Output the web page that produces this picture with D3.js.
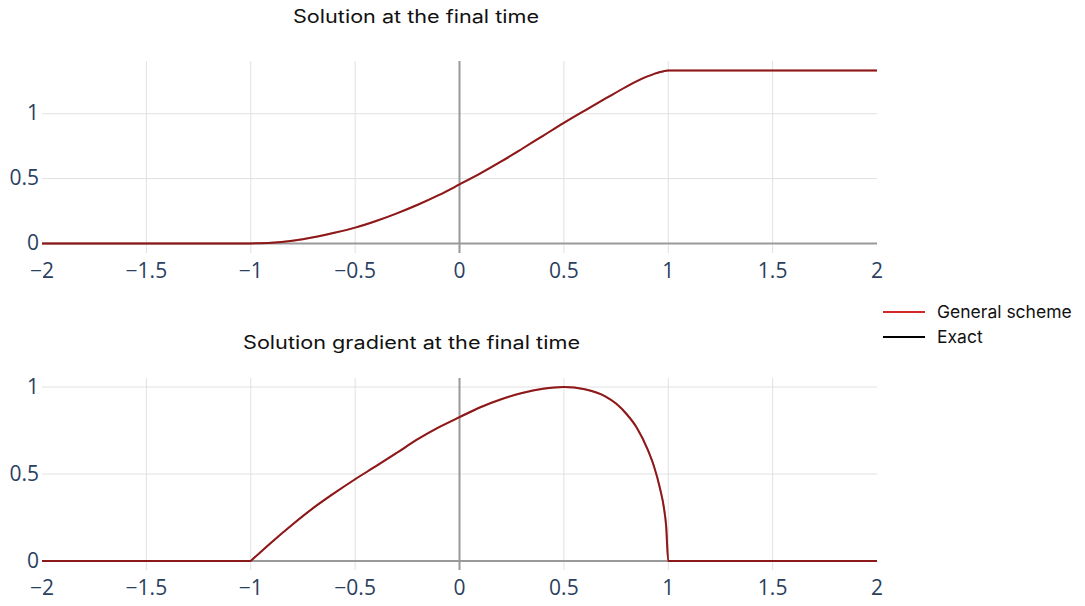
<!DOCTYPE html>
<html lang="en">

<head>
    <meta charset="UTF-8">
    <title>Solution at the final time</title>
    <script src="https://cdn.jsdelivr.net/npm/d3@7"></script>
    <style>
        body { margin: 0; background: #fff; }
        svg { display: block; }
    </style>
</head>

<body>
    <svg id="chart" width="1085" height="606"></svg>

    <script>
        // x positions shared by both panels
        const xs = [-2, -1.5, -1, -0.9, -0.8, -0.7, -0.6, -0.5, -0.4, -0.3, -0.2, -0.1,
            0, 0.1, 0.2, 0.3, 0.4, 0.5, 0.6, 0.7, 0.75, 0.8, 0.85, 0.9, 0.93, 0.96, 0.98, 0.99, 1, 1.5, 2]

        // solution u(x) at final time
        const solution = [0, 0, 0, 0.005, 0.021, 0.047, 0.082, 0.122, 0.173, 0.232, 0.298, 0.372,
            0.455, 0.54, 0.632, 0.73, 0.83, 0.93, 1.025, 1.118, 1.164, 1.21, 1.252, 1.288, 1.306, 1.322, 1.329, 1.332, 1.333, 1.333, 1.333]

        // gradient u'(x) at final time
        const gradient = [0, 0, 0, 0.108, 0.21, 0.305, 0.39, 0.47, 0.545, 0.622, 0.7, 0.768,
            0.827, 0.884, 0.93, 0.966, 0.99, 1.0, 0.987, 0.945, 0.905, 0.845, 0.765, 0.645, 0.55, 0.42, 0.3, 0.2, 0, 0, 0]

        const xTicks = [-2, -1.5, -1, -0.5, 0, 0.5, 1, 1.5, 2]
        const yTicks = [0, 0.5, 1]

        const seriesNames = ['General scheme', 'Exact']
        const seriesColors = ['#d62728', '#000000']

        const svg = d3.select('#chart')
        const left = 42, right = 877

        const panels = [
            { title: 'Solution at the final time', values: solution, top: 61, bottom: 253,
              domain: [-0.074, 1.407], titleX: 293, titleY: 23, titleW: 246 },
            { title: 'Solution gradient at the final time', values: gradient, top: 378, bottom: 570,
              domain: [-0.052, 1.052], titleX: 243, titleY: 349, titleW: 337 }
        ]

        const fmt = d => d === 0 ? '0' : d3.format('')(d).replace('-', '\u2212')

        panels.forEach(p => {
            const x = d3.scaleLinear().domain([-2, 2]).range([left, right])
            const y = d3.scaleLinear().domain(p.domain).range([p.bottom, p.top])
            const g = svg.append('g')

            // grid lines
            g.selectAll('.vgrid')
                .data(xTicks.filter(d => d !== 0 && Math.abs(d) !== 2))
                .join('line')
                .attr('x1', d => x(d)).attr('x2', d => x(d))
                .attr('y1', p.top).attr('y2', p.bottom)
                .attr('stroke', '#e1e1e1').attr('stroke-width', 1)
            g.selectAll('.hgrid')
                .data(yTicks.filter(d => d !== 0))
                .join('line')
                .attr('x1', left).attr('x2', right)
                .attr('y1', d => y(d)).attr('y2', d => y(d))
                .attr('stroke', '#e1e1e1').attr('stroke-width', 1)

            // zero lines
            g.append('line')
                .attr('x1', x(0)).attr('x2', x(0))
                .attr('y1', p.top).attr('y2', p.bottom)
                .attr('stroke', '#999').attr('stroke-width', 2)
            g.append('line')
                .attr('x1', left).attr('x2', right)
                .attr('y1', y(0)).attr('y2', y(0))
                .attr('stroke', '#999').attr('stroke-width', 2)

            // tick labels
            g.selectAll('.xt')
                .data(xTicks)
                .join('text')
                .attr('x', d => x(d))
                .attr('y', p.bottom + 25)
                .attr('text-anchor', 'middle')
                .attr('font-family', 'Open Sans')
                .attr('font-size', 21)
                .attr('fill', '#2a3f5f')
                .text(fmt)
            g.selectAll('.yt')
                .data(yTicks)
                .join('text')
                .attr('x', left - 3)
                .attr('y', d => y(d))
                .attr('dy', '0.32em')
                .attr('text-anchor', 'end')
                .attr('font-family', 'Open Sans')
                .attr('font-size', 21)
                .attr('fill', '#2a3f5f')
                .text(fmt)

            // lines: flat part straight, the rest smoothed, so the kink at x = -1 stays sharp
            const pts = xs.map((v, i) => [v, p.values[i]])
            const flat = pts.filter(d => d[0] <= -1)
            const rest = pts.filter(d => d[0] >= -1)
            const straight = d3.line().x(d => x(d[0])).y(d => y(d[1]))
            const smooth = d3.line().x(d => x(d[0])).y(d => y(d[1])).curve(d3.curveMonotoneX)
            const pathD = straight(flat) + smooth(rest)

            g.append('path')
                .attr('d', pathD).attr('fill', 'none')
                .attr('stroke', seriesColors[0]).attr('stroke-width', 2)
            g.append('path')
                .attr('d', pathD).attr('fill', 'none')
                .attr('stroke', seriesColors[1]).attr('stroke-width', 2)
                .attr('stroke-opacity', 0.35)

            // title
            g.append('text')
                .attr('x', p.titleX).attr('y', p.titleY)
                .attr('font-family', 'Inter')
                .attr('font-size', 18)
                .attr('fill', '#111')
                .attr('textLength', p.titleW)
                .attr('lengthAdjust', 'spacingAndGlyphs')
                .text(p.title)
        })

        // legend
        const legend = svg.append('g')
        seriesNames.forEach((name, i) => {
            const ly = 312 + i * 25
            legend.append('line')
                .attr('x1', 883).attr('x2', 925)
                .attr('y1', ly).attr('y2', ly)
                .attr('stroke', seriesColors[i]).attr('stroke-width', 2)
            legend.append('text')
                .attr('x', 937).attr('y', ly)
                .attr('dy', '0.35em')
                .attr('font-family', 'Inter')
                .attr('font-size', 17.5)
                .attr('fill', '#111')
                .text(name)
        })
    </script>
</body>

</html>
